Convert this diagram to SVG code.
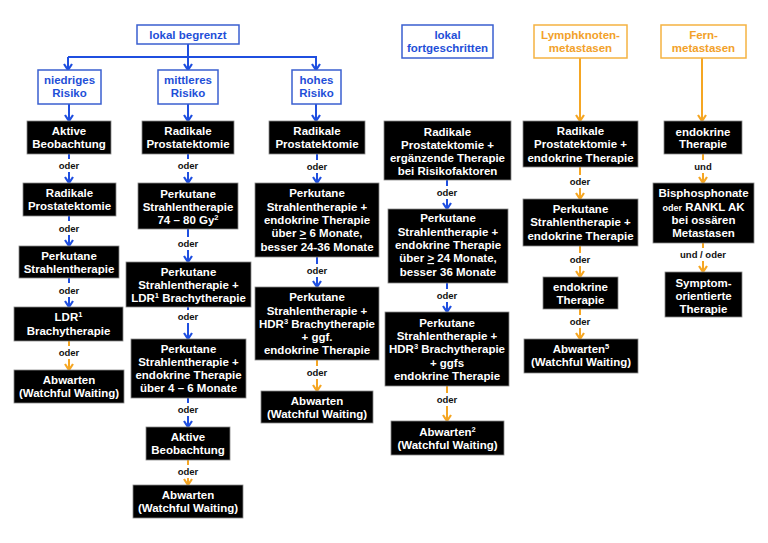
<svg xmlns="http://www.w3.org/2000/svg" width="768" height="543" viewBox="0 0 768 543">
<defs>
<style>
.hb{fill:#fff;stroke:#3a5fd0;stroke-width:1.5}
.ho{fill:#fff;stroke:#f5b342;stroke-width:1.5}
.ht{font-family:"Liberation Sans",Arial,sans-serif;font-weight:bold;font-size:11.5px;fill:#1f4fd8;text-anchor:middle}
.hto{font-family:"Liberation Sans",Arial,sans-serif;font-weight:bold;font-size:11.5px;fill:#f2a12a;text-anchor:middle}
.bx{fill:#000;stroke:#888;stroke-width:0.8}
.t{font-family:"Liberation Sans",Arial,sans-serif;font-weight:bold;font-size:11.5px;fill:#fff;text-anchor:middle}
.l{font-family:"Liberation Sans",Arial,sans-serif;font-weight:bold;font-size:9.5px;fill:#111;text-anchor:middle}
.cb{stroke:#1f4fe0;stroke-width:2;fill:none}
.co{stroke:#f5a623;stroke-width:2;fill:none}
.cba{stroke:#1f4fe0;stroke-width:2;fill:none;marker-end:url(#ab)}
.coa{stroke:#f5a623;stroke-width:2;fill:none;marker-end:url(#ao)}
</style>
<marker id="ab" viewBox="0 0 10 10" refX="8" refY="5" markerWidth="10" markerHeight="10" orient="auto" markerUnits="userSpaceOnUse"><path d="M2,1 L8,5 L2,9" fill="none" stroke="#1f4fe0" stroke-width="2.2"/></marker>
<marker id="ao" viewBox="0 0 10 10" refX="8" refY="5" markerWidth="10" markerHeight="10" orient="auto" markerUnits="userSpaceOnUse"><path d="M2,1 L8,5 L2,9" fill="none" stroke="#f5a623" stroke-width="2.2"/></marker>
</defs>
<rect width="768" height="543" fill="#fff"/>

<g id="connectors">
<path class="cb" d="M188,44 V57 M68,57 H317"/>
<path class="cba" d="M68,57 V70"/>
<path class="cba" d="M188,57 V70"/>
<path class="cba" d="M316,57 V70"/>
<path class="cba" d="M69,104 V121"/>
<path class="cba" d="M188,104 V121"/>
<path class="cba" d="M316,104 V121"/>
<path class="coa" d="M580,58 V121"/>
<path class="coa" d="M702,58 V121"/>
<!-- col1 -->
<path class="cb" d="M69,154 V159"/><path class="cba" d="M69,172 V183"/>
<path class="cb" d="M69,216 V221"/><path class="cba" d="M69,235 V246"/>
<path class="cb" d="M69,278 V283"/><path class="cba" d="M69,297 V307"/>
<path class="co" d="M69,341 V346"/><path class="coa" d="M69,359 V370"/>
<!-- col2 -->
<path class="cb" d="M188,154 V159"/><path class="cba" d="M188,172 V183"/>
<path class="cb" d="M188,229 V237"/><path class="cba" d="M188,250 V262"/>
<path class="cb" d="M188,307 V310"/><path class="cba" d="M188,323 V339"/>
<path class="cb" d="M188,398 V403"/><path class="cba" d="M188,416 V427"/>
<path class="co" d="M188,460 V465"/><path class="coa" d="M188,478 V485"/>
<!-- col3 -->
<path class="cb" d="M317,154 V160"/><path class="cba" d="M317,173 V183"/>
<path class="cb" d="M317,257 V264"/><path class="cba" d="M317,277 V287"/>
<path class="co" d="M317,360 V366"/><path class="coa" d="M317,379 V391"/>
<!-- col4 -->
<path class="cb" d="M447,180 V186"/><path class="cba" d="M447,199 V209"/>
<path class="cb" d="M447,283 V289"/><path class="cba" d="M447,302 V312"/>
<path class="co" d="M447,386 V393"/><path class="coa" d="M447,406 V421"/>
<!-- col5 -->
<path class="co" d="M580,167 V175"/><path class="coa" d="M580,188 V199"/>
<path class="co" d="M580,246 V253"/><path class="coa" d="M580,266 V277"/>
<path class="co" d="M580,309 V315"/><path class="coa" d="M580,328 V339"/>
<!-- col6 -->
<path class="co" d="M703,154 V160"/><path class="coa" d="M703,173 V183"/>
<path class="co" d="M703,243 V248"/><path class="coa" d="M703,261 V272"/>
</g>

<g id="labels">
<text class="l" x="69" y="169">oder</text>
<text class="l" x="69" y="232">oder</text>
<text class="l" x="69" y="294">oder</text>
<text class="l" x="69" y="356">oder</text>
<text class="l" x="188" y="169">oder</text>
<text class="l" x="188" y="247">oder</text>
<text class="l" x="188" y="320">oder</text>
<text class="l" x="188" y="413">oder</text>
<text class="l" x="188" y="475">oder</text>
<text class="l" x="317" y="170">oder</text>
<text class="l" x="317" y="274">oder</text>
<text class="l" x="317" y="376">oder</text>
<text class="l" x="447" y="196">oder</text>
<text class="l" x="447" y="299">oder</text>
<text class="l" x="447" y="403">oder</text>
<text class="l" x="580" y="185">oder</text>
<text class="l" x="580" y="263">oder</text>
<text class="l" x="580" y="325">oder</text>
<text class="l" x="703" y="170">und</text>
<text class="l" x="703" y="258">und / oder</text>
</g>

<g id="h-lokal-begrenzt"><rect class="hb" x="137" y="25" width="102" height="19"/><text class="ht" x="188" y="38.5">lokal begrenzt</text></g>
<g id="h-niedrig"><rect class="hb" x="38" y="70" width="63" height="34"/><text class="ht" x="69.5" y="84">niedriges</text><text class="ht" x="69.5" y="97">Risiko</text></g>
<g id="h-mittel"><rect class="hb" x="158" y="70" width="60" height="34"/><text class="ht" x="188" y="84">mittleres</text><text class="ht" x="188" y="97">Risiko</text></g>
<g id="h-hoch"><rect class="hb" x="292" y="70" width="49" height="34"/><text class="ht" x="316.5" y="84">hohes</text><text class="ht" x="316.5" y="97">Risiko</text></g>
<g id="h-fortgeschritten"><rect class="hb" x="402" y="25" width="91" height="33"/><text class="ht" x="447.5" y="39">lokal</text><text class="ht" x="447.5" y="52">fortgeschritten</text></g>
<g id="h-lymph"><rect class="ho" x="534" y="25" width="93" height="33"/><text class="hto" x="580.5" y="39">Lymphknoten-</text><text class="hto" x="580.5" y="52">metastasen</text></g>
<g id="h-fern"><rect class="ho" x="661" y="25" width="85" height="33"/><text class="hto" x="703.5" y="39">Fern-</text><text class="hto" x="703.5" y="52">metastasen</text></g>

<!-- column 1 -->
<g id="n1a"><rect class="bx" x="27" y="121" width="84" height="33"/><text class="t" x="69" y="135">Aktive</text><text class="t" x="69" y="148">Beobachtung</text></g>
<g id="n1b"><rect class="bx" x="23" y="183" width="93" height="33"/><text class="t" x="69.5" y="197">Radikale</text><text class="t" x="69.5" y="210">Prostatektomie</text></g>
<g id="n1c"><rect class="bx" x="19" y="246" width="100" height="32"/><text class="t" x="69" y="260">Perkutane</text><text class="t" x="69" y="273">Strahlentherapie</text></g>
<g id="n1d"><rect class="bx" x="14" y="307" width="109" height="34"/><text class="t" x="68.5" y="321">LDR<tspan font-size="7.5" dy="-4">1</tspan></text><text class="t" x="68.5" y="335">Brachytherapie</text></g>
<g id="n1e"><rect class="bx" x="14" y="370" width="110" height="33"/><text class="t" x="69" y="384">Abwarten</text><text class="t" x="69" y="397">(Watchful Waiting)</text></g>

<!-- column 2 -->
<g id="n2a"><rect class="bx" x="142" y="121" width="92" height="33"/><text class="t" x="188" y="135">Radikale</text><text class="t" x="188" y="148">Prostatektomie</text></g>
<g id="n2b"><rect class="bx" x="138" y="183" width="100" height="46"/><text class="t" x="188" y="198">Perkutane</text><text class="t" x="188" y="211">Strahlentherapie</text><text class="t" x="188" y="224">74 – 80 Gy<tspan font-size="7.5" dy="-4">2</tspan></text></g>
<g id="n2c"><rect class="bx" x="126" y="262" width="125" height="45"/><text class="t" x="188.5" y="276">Perkutane</text><text class="t" x="188.5" y="289">Strahlentherapie +</text><text class="t" x="188.5" y="302">LDR<tspan font-size="7.5" dy="-4">1</tspan><tspan dy="4"> Brachytherapie</tspan></text></g>
<g id="n2d"><rect class="bx" x="131" y="339" width="115" height="59"/><text class="t" x="188.5" y="353">Perkutane</text><text class="t" x="188.5" y="366">Strahlentherapie +</text><text class="t" x="188.5" y="379">endokrine Therapie</text><text class="t" x="188.5" y="392">über 4 – 6 Monate</text></g>
<g id="n2e"><rect class="bx" x="146" y="427" width="84" height="33"/><text class="t" x="188" y="441">Aktive</text><text class="t" x="188" y="454">Beobachtung</text></g>
<g id="n2f"><rect class="bx" x="133" y="485" width="110" height="33"/><text class="t" x="188" y="499">Abwarten</text><text class="t" x="188" y="512">(Watchful Waiting)</text></g>

<!-- column 3 -->
<g id="n3a"><rect class="bx" x="269" y="121" width="96" height="33"/><text class="t" x="317" y="135">Radikale</text><text class="t" x="317" y="148">Prostatektomie</text></g>
<g id="n3b"><rect class="bx" x="255" y="183" width="124" height="74"/><text class="t" x="317" y="197">Perkutane</text><text class="t" x="317" y="210.5">Strahlentherapie +</text><text class="t" x="317" y="224">endokrine Therapie</text><text class="t" x="317" y="237">über  <tspan text-decoration="underline">&gt;</tspan> 6 Monate,</text><text class="t" x="317" y="250.5">besser 24-36 Monate</text></g>
<g id="n3c"><rect class="bx" x="255" y="287" width="124" height="73"/><text class="t" x="317" y="301">Perkutane</text><text class="t" x="317" y="314.5">Strahlentherapie +</text><text class="t" x="317" y="328">HDR<tspan font-size="7.5" dy="-4">3</tspan><tspan dy="4"> Brachytherapie</tspan></text><text class="t" x="317" y="341">+ ggf.</text><text class="t" x="317" y="354">endokrine Therapie</text></g>
<g id="n3d"><rect class="bx" x="261" y="391" width="112" height="32"/><text class="t" x="317" y="405">Abwarten</text><text class="t" x="317" y="418">(Watchful Waiting)</text></g>

<!-- column 4 -->
<g id="n4a"><rect class="bx" x="384" y="121" width="127" height="59"/><text class="t" x="447.5" y="136">Radikale</text><text class="t" x="447.5" y="149">Prostatektomie +</text><text class="t" x="447.5" y="162">ergänzende  Therapie</text><text class="t" x="447.5" y="175">bei Risikofaktoren</text></g>
<g id="n4b"><rect class="bx" x="388" y="209" width="120" height="74"/><text class="t" x="448" y="222">Perkutane</text><text class="t" x="448" y="236">Strahlentherapie +</text><text class="t" x="448" y="249">endokrine Therapie</text><text class="t" x="448" y="262">über <tspan text-decoration="underline">&gt;</tspan> 24 Monate,</text><text class="t" x="448" y="276">besser  36 Monate</text></g>
<g id="n4c"><rect class="bx" x="385" y="312" width="124" height="74"/><text class="t" x="447" y="327">Perkutane</text><text class="t" x="447" y="340">Strahlentherapie +</text><text class="t" x="447" y="353">HDR<tspan font-size="7.5" dy="-4">3</tspan><tspan dy="4"> Brachytherapie</tspan></text><text class="t" x="447" y="367">+ ggfs</text><text class="t" x="447" y="380">endokrine Therapie</text></g>
<g id="n4d"><rect class="bx" x="391" y="421" width="113" height="34"/><text class="t" x="447.5" y="436">Abwarten<tspan font-size="7.5" dy="-4">2</tspan></text><text class="t" x="447.5" y="449">(Watchful Waiting)</text></g>

<!-- column 5 -->
<g id="n5a"><rect class="bx" x="523" y="121" width="115" height="46"/><text class="t" x="580.5" y="135">Radikale</text><text class="t" x="580.5" y="148">Prostatektomie +</text><text class="t" x="580.5" y="162">endokrine Therapie</text></g>
<g id="n5b"><rect class="bx" x="523" y="199" width="115" height="47"/><text class="t" x="580.5" y="213">Perkutane</text><text class="t" x="580.5" y="226">Strahlentherapie +</text><text class="t" x="580.5" y="240">endokrine Therapie</text></g>
<g id="n5c"><rect class="bx" x="543" y="277" width="75" height="32"/><text class="t" x="580.5" y="291">endokrine</text><text class="t" x="580.5" y="304">Therapie</text></g>
<g id="n5d"><rect class="bx" x="524" y="339" width="114" height="34"/><text class="t" x="581" y="353">Abwarten<tspan font-size="7.5" dy="-4">5</tspan></text><text class="t" x="581" y="366">(Watchful Waiting)</text></g>

<!-- column 6 -->
<g id="n6a"><rect class="bx" x="664" y="121" width="78" height="33"/><text class="t" x="703" y="136">endokrine</text><text class="t" x="703" y="148">Therapie</text></g>
<g id="n6b"><rect class="bx" x="653" y="183" width="101" height="60"/><text class="t" x="703.5" y="197">Bisphosphonate</text><text class="t" x="703.5" y="211"><tspan font-size="9">oder</tspan> RANKL AK</text><text class="t" x="703.5" y="224">bei ossären</text><text class="t" x="703.5" y="237">Metastasen</text></g>
<g id="n6c"><rect class="bx" x="665" y="272" width="77" height="45"/><text class="t" x="703.5" y="287">Symptom-</text><text class="t" x="703.5" y="300">orientierte</text><text class="t" x="703.5" y="313">Therapie</text></g>
</svg>
